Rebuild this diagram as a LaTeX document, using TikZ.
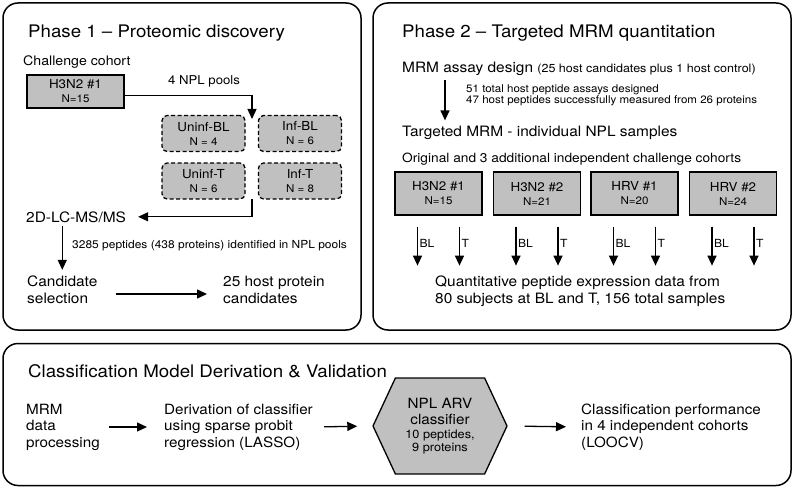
\documentclass[tikz,border=0pt]{standalone}
\usepackage{fontspec}
\setmainfont[FakeStretch=1.08]{TeX Gyre Heros}
\usetikzlibrary{arrows.meta,shapes.symbols}
\definecolor{boxgray}{RGB}{192,192,192}
\newcommand\fbig{\fontsize{17.3}{21}\selectfont}
\newcommand\fmed{\fontsize{14.3}{17}\selectfont}
\newcommand\fmedb{\fontsize{14.1}{16.5}\selectfont}
\newcommand\fsmall{\fontsize{10.7}{9.5}\selectfont}
\newcommand\fnote{\fontsize{11.1}{13}\selectfont}
\newcommand\fcell{\fontsize{12.4}{14}\selectfont}
\newcommand\fcellsub{\fontsize{10.7}{13}\selectfont}
\newcommand\fhexsub{\fontsize{11.8}{13}\selectfont}

\begin{document}
\begin{tikzpicture}[x=1pt,y=-1pt]
	\tikzset{panel/.style={draw, line width=1.5pt, rounded corners=15pt},
		cohort/.style={draw, fill=boxgray, line width=1.3pt, minimum width=87pt, minimum height=43pt, inner sep=0pt, align=center, font=\fcell},
		pool/.style={draw, fill=boxgray, line width=1.3pt, dash pattern=on 4pt off 2.5pt, rounded corners=5pt, minimum width=83pt, minimum height=36pt, inner sep=0pt, align=center, font=\fcell},
		hexa/.style={shape=signal, signal to=east and west, signal pointer angle=130, draw, fill=boxgray, line width=1.3pt, minimum width=134pt, minimum height=96pt, inner sep=0pt, align=center, font=\fmedb},
		txt/.style={inner sep=0pt, anchor=base west},
		para/.style={inner sep=0pt, anchor=west, align=left},
		flow/.style={-{Triangle[length=10pt,width=9pt]}, line width=1.3pt}}
	% \draw (0, 0) grid (794, 489);
	\useasboundingbox (0,0) rectangle (794,489);
	\node [panel, minimum width=358pt, minimum height=327pt] (p1) at (182,166.5) {};
	\node [panel, minimum width=418pt, minimum height=327pt] (p2) at (582,166.5) {};
	\node [panel, minimum width=788pt, minimum height=142pt] (p3) at (397,414.5) {};

	% phase 1
	\node [txt, font=\fbig] (t1) at (28,38) {Phase 1 -- Proteomic discovery};
	\node [txt, font=\fontsize{13.1}{16}\selectfont] (chal) at (23,66) {Challenge cohort};
	\node [cohort, minimum width=97pt, minimum height=33pt] (h1) at (75.5,91.5) {H3N2 \#1\\\fcellsub N=15};
	\node [txt, font=\fontsize{12.2}{14}\selectfont] (npl) at (168,85) {4 NPL pools};
	\node [pool] (ubl) at (203.5,133.5) {Uninf-BL\\\fcellsub N = 4};
	\node [pool] (ibl) at (300,133.5) {Inf-BL\\\fcellsub N = 6};
	\node [pool] (ut) at (203.5,181) {Uninf-T\\\fcellsub N = 6};
	\node [pool] (it) at (300,181) {Inf-T\\\fcellsub N = 8};
	\coordinate (pin) at (252,119);
	\coordinate (pout) at (252,199);
	\node [txt, font=\fmed] (lcms) at (26,222) {2D-LC-MS/MS};
	\node [txt, font=\fnote] (ident) at (72,248) {3285 peptides (438 proteins) identified in NPL pools};
	\node [para, font=\fmed] (cand) at (27,290) {Candidate\\selection};
	\node [para, font=\fmed] (hostc) at (223,290) {25 host protein\\candidates};
	\draw [flow] ([yshift=-4pt]h1.east) -| (pin);
	\draw [flow, shorten >=12pt] (pout) |- (lcms.east);
	\draw [flow, shorten <=4pt, shorten >=6pt] (cand.north |- lcms.south) -- (cand.north);
	\draw [flow, shorten <=18pt, shorten >=16pt] ([yshift=-4pt]cand.east) -- ([yshift=-4pt]hostc.west);

	% phase 2
	\node [txt, font=\fbig] (t2) at (402,38) {Phase 2 -- Targeted MRM quantitation};
	\node [txt, font=\fmed] (assay) at (402,73) {MRM assay design {\fontsize{11.6}{13}\selectfont(25 host candidates plus 1 host control)}};
	\node [para, font=\fsmall] (design) at (466,95) {51 total host peptide assays designed\\47 host peptides successfully measured from 26 proteins};
	\node [txt, font=\fmed] (targ) at (402,137) {Targeted MRM - individual NPL samples};
	\node [txt, font=\fontsize{12.7}{16}\selectfont] (orig) at (402,163) {Original and 3 additional independent challenge cohorts};
	\coordinate (a2) at (445,100);
	\draw [flow, shorten <=4pt, shorten >=6pt] (assay.south -| a2) -- (targ.north -| a2);
	\foreach \n/\x/\lab/\num in {c1/438.5/H3N2 \#1/15, c2/537/H3N2 \#2/21, c3/634.5/HRV \#1/20, c4/733/HRV \#2/24}
	{
		\node [cohort] (\n) at (\x,193.5) {\lab\\\fcellsub N=\num};
		\path (\n.south) ++(-21,11) coordinate (\n-bl0) ++(0,39) coordinate (\n-bl1);
		\path (\n.south) ++(21,11) coordinate (\n-t0) ++(0,39) coordinate (\n-t1);
		\draw [flow] (\n-bl0) -- node [right, pos=0.42, inner sep=1.5pt, font=\fontsize{11.2}{12}\selectfont] {BL} (\n-bl1);
		\draw [flow] (\n-t0) -- node [right, pos=0.42, inner sep=1.5pt, font=\fontsize{11.2}{12}\selectfont] {T} (\n-t1);
	}
	\node [para, font=\fmed] (quant) at (435,291.5) {Quantitative peptide expression data from\\80 subjects at BL and T, 156 total samples};

	% classification
	\node [txt, font=\fbig] (t3) at (28,377) {Classification Model Derivation \& Validation};
	\node [para, font=\fmedb] (mrm) at (26,427) {MRM\\data\\processing};
	\node [para, font=\fmedb] (deriv) at (164,427) {Derivation of classifier\\using sparse probit\\regression (LASSO)};
	\node [hexa] (arv) at (440,426) {NPL ARV\\classifier\\[-3pt]\fhexsub 10 peptides,\\[-3pt]\fhexsub 9 proteins};
	\node [para, font=\fmedb] (perf) at (581,427) {Classification performance\\in 4 independent cohorts\\(LOOCV)};
	\draw [flow, shorten <=9pt, shorten >=17pt] (mrm.east) -- (deriv.west);
	\draw [flow, shorten <=11pt, shorten >=15pt] (deriv.east) -- (arv.west);
	\draw [flow, shorten <=17pt, shorten >=15pt] (arv.east) -- (perf.west);
\end{tikzpicture}
\end{document}
